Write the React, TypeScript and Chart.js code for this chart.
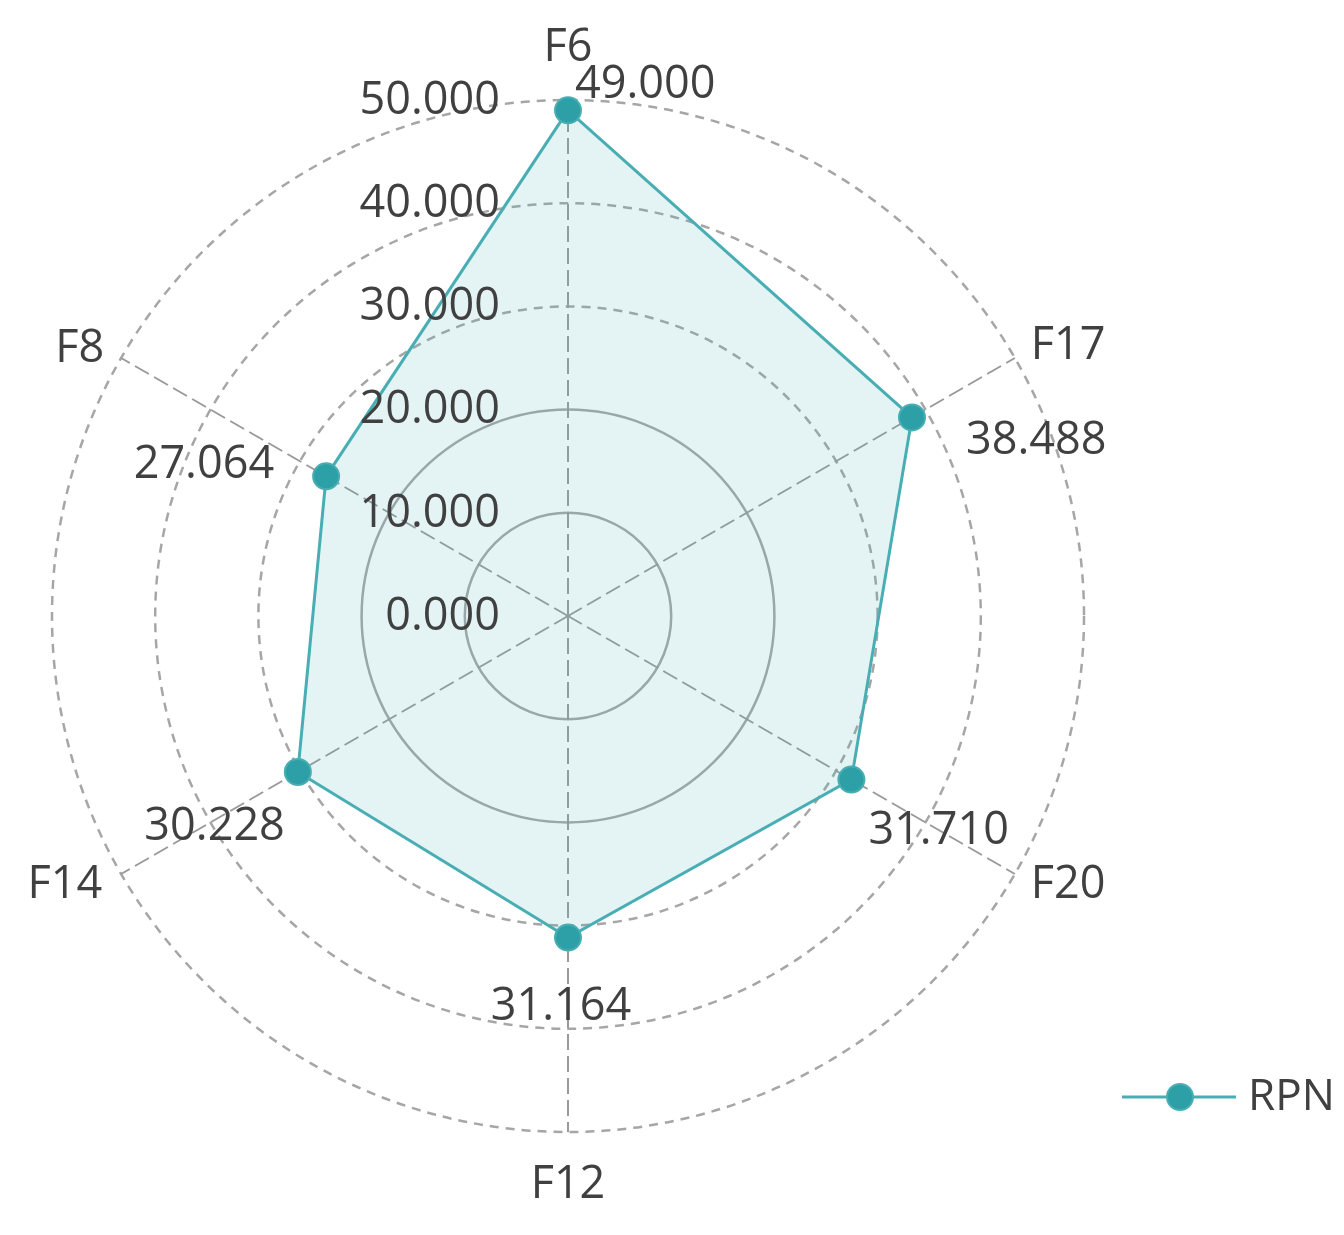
import React, { useEffect, useRef } from "react";
import { Chart, registerables } from "chart.js";

Chart.register(...registerables);

const categories = ["F6", "F17", "F20", "F12", "F14", "F8"];
const rpnValues = [49.0, 38.488, 31.71, 31.164, 30.228, 27.064];
const tickValues = [0, 10, 20, 30, 40, 50];
const seriesName = "RPN";

const FONT = '"Open Sans", "DejaVu Sans", sans-serif';
const TEXT = "#404040";
const TEAL = "rgb(72, 174, 180)";
const MARKER = "rgb(44, 160, 166)";
const GRID = "#a6a6a6";

// where each value label sits relative to its point
const valuePlacement = [
  { align: "left", dx: 7, dy: -25 },
  { align: "left", dx: 54, dy: 24 },
  { align: "left", dx: 17, dy: 52 },
  { align: "center", dx: -7, dy: 70 },
  { align: "right", dx: -13, dy: 55 },
  { align: "right", dx: -52, dy: -11 },
];

// small nudges of category labels from their axis end
const labelNudge = [
  { dx: 0, dy: -2 },
  { dx: 10, dy: 13 },
  { dx: 10, dy: -14 },
  { dx: 0, dy: 3 },
  { dx: -13, dy: -14 },
  { dx: 2, dy: 16 },
];

const overlayPlugin = {
  id: "overlay",
  afterDatasetsDraw(chart: any) {
    const ctx = chart.ctx;
    const scale = chart.scales.r;
    ctx.save();
    ctx.fillStyle = TEXT;
    ctx.font = `45px ${FONT}`;
    ctx.textBaseline = "middle";

    // radial tick labels, right-aligned left of the vertical axis
    ctx.textAlign = "right";
    tickValues.forEach((v) => {
      const y = scale.yCenter - scale.getDistanceFromCenterForValue(v);
      ctx.fillText(v.toFixed(3), scale.xCenter - 68, y + 1);
    });

    // category labels
    ctx.textAlign = "center";
    categories.forEach((c, i) => {
      const p = scale.getPointPosition(i, scale.drawingArea + 50);
      ctx.fillText(c, p.x + labelNudge[i].dx, p.y + labelNudge[i].dy);
    });

    // value labels
    const meta = chart.getDatasetMeta(0);
    meta.data.forEach((pt: any, i: number) => {
      const pl = valuePlacement[i];
      ctx.textAlign = pl.align;
      ctx.fillText(rpnValues[i].toFixed(3), pt.x + pl.dx, pt.y + pl.dy);
    });

    // legend (line + marker + text) at bottom right
    const ly = 1097;
    ctx.strokeStyle = TEAL;
    ctx.lineWidth = 3;
    ctx.beginPath();
    ctx.moveTo(1122, ly);
    ctx.lineTo(1236, ly);
    ctx.stroke();
    ctx.beginPath();
    ctx.arc(1180, ly, 13, 0, Math.PI * 2);
    ctx.fillStyle = MARKER;
    ctx.fill();
    ctx.lineWidth = 2;
    ctx.strokeStyle = TEAL;
    ctx.stroke();
    ctx.fillStyle = TEXT;
    ctx.font = `44px ${FONT}`;
    ctx.textAlign = "left";
    ctx.fillText(seriesName, 1248, ly);

    ctx.restore();
  },
};

export default function App() {
  const canvasRef = useRef<HTMLCanvasElement | null>(null);

  useEffect(() => {
    if (!canvasRef.current) return;
    const chart = new Chart(canvasRef.current, {
      type: "radar",
      data: {
        labels: categories,
        datasets: [
          {
            label: seriesName,
            data: rpnValues,
            borderColor: TEAL,
            borderWidth: 3,
            backgroundColor: "rgba(75, 172, 178, 0.15)",
            fill: true,
            pointRadius: 13,
            pointBackgroundColor: MARKER,
            pointBorderColor: TEAL,
            pointBorderWidth: 2,
          },
        ],
      },
      options: {
        responsive: false,
        animation: false,
        layout: { padding: { left: 52, top: 100, right: 260, bottom: 103 } },
        plugins: {
          legend: { display: false },
          tooltip: { enabled: false },
        },
        scales: {
          r: {
            min: 0,
            max: 50,
            ticks: { stepSize: 10, display: false, showLabelBackdrop: false },
            pointLabels: { display: false },
            grid: {
              circular: true,
              color: GRID,
              lineWidth: 2.5,
            },
            border: {
              dash: (c: any) => (c.tick && c.tick.value >= 30 ? [9, 7] : []),
            },
            angleLines: {
              display: true,
              color: "#9a9a9a",
              lineWidth: 2,
              borderDash: [16, 6],
            },
          },
        },
      },
      plugins: [overlayPlugin],
    } as any);
    return () => chart.destroy();
  }, []);

  return (
    <div style={{ position: "fixed", left: 0, top: 0, width: 1344, height: 1235, background: "#fff" }}>
      <canvas ref={canvasRef} width={1344} height={1235} />
    </div>
  );
}
